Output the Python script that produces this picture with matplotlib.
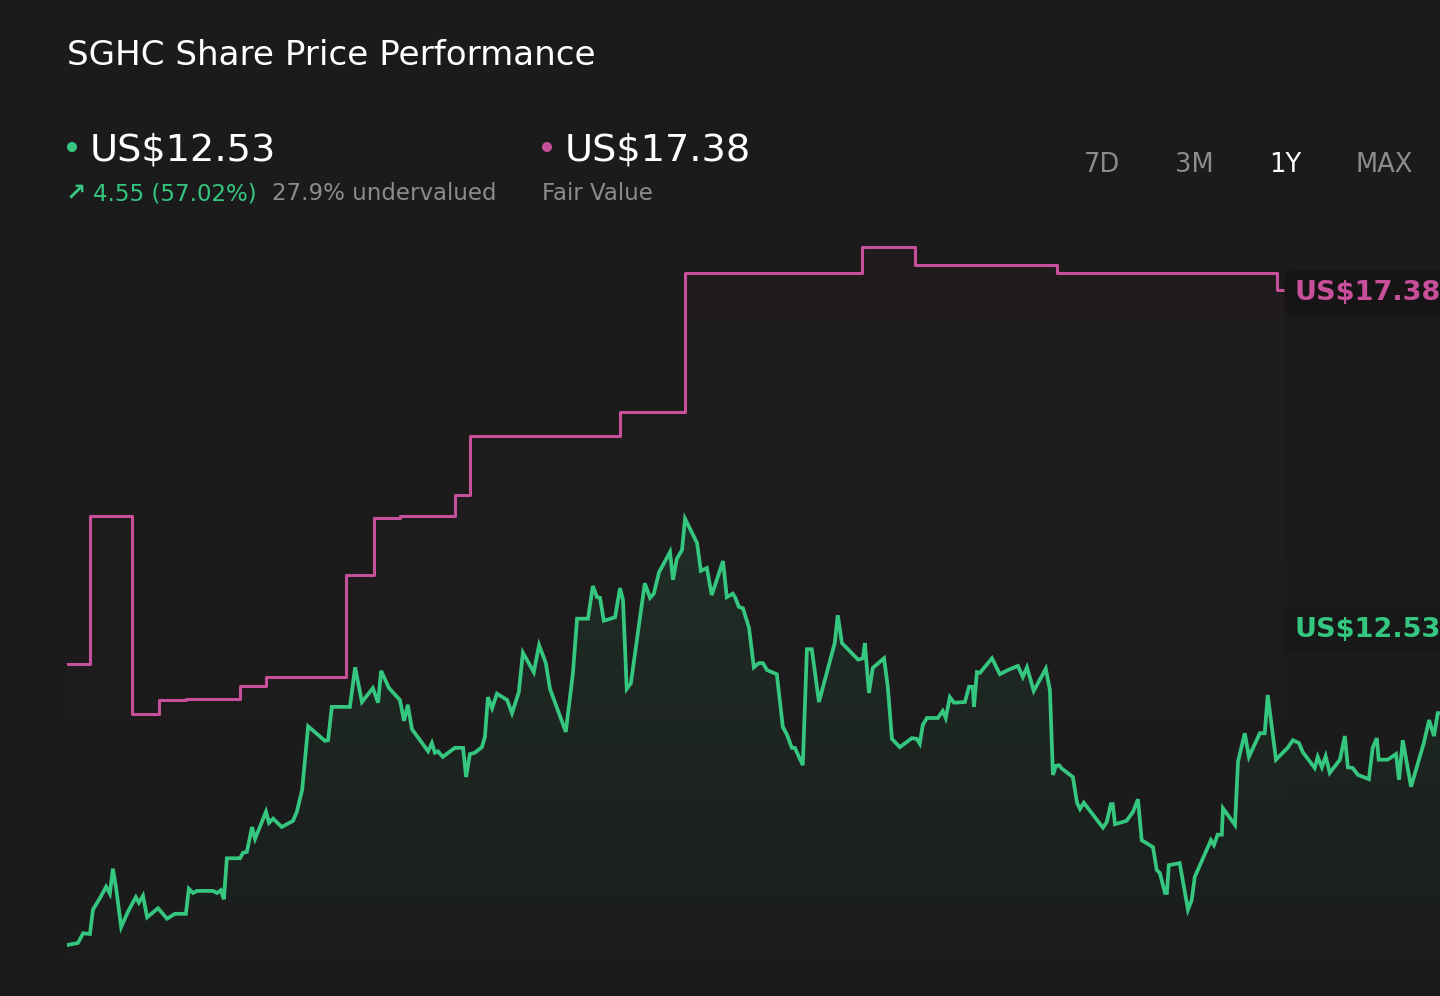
import numpy as np
import matplotlib
matplotlib.use("Agg")
import matplotlib.pyplot as plt
import matplotlib.colors as mcolors
from matplotlib.patches import Ellipse

BG = "#1b1b1b"
GREEN = "#35c77f"
PINK = "#c8509a"

# share price, days since start of the 1Y window
price_days = [0.0, 2.9, 4.3, 6.1, 6.9, 8.8, 10.4, 11.4, 12.2, 13.0, 14.4, 16.2, 18.3, 19.1, 20.2, 21.3,
              24.2, 26.6, 28.7, 31.6, 32.4, 33.5, 34.6, 38.8, 39.9, 40.9, 41.7, 42.5, 46.0, 46.8, 47.8,
              49.2, 50.0, 52.9, 53.7, 54.8, 57.1, 60.1, 61.1, 62.5, 64.1, 68.6, 69.4, 70.4, 75.2, 76.6,
              78.4, 81.3, 82.7, 83.5, 85.6, 88.5, 89.6, 90.6, 91.7, 96.0, 97.0, 97.8, 98.6, 99.9, 103.1,
              105.3, 106.1, 107.1, 108.4, 110.3, 111.1, 111.9, 113.0, 114.3, 117.0, 118.3, 120.1, 121.2,
              124.1, 125.5, 127.3, 128.4, 132.6, 134.5, 135.6, 138.5, 139.8, 140.9, 141.7, 142.7, 145.7,
              147.0, 147.8, 148.8, 149.9, 153.6, 155.0, 156.0, 157.4, 160.3, 161.1, 162.1, 163.5, 164.3,
              167.5, 168.5, 170.1, 171.4, 174.4, 175.4, 177.0, 177.6, 178.6, 179.7, 181.3, 182.6, 183.9,
              185.0, 186.1, 188.7, 190.3, 191.4, 192.7, 193.5, 195.6, 196.7, 198.0, 199.9, 204.1, 204.9,
              206.0, 210.3, 211.6, 212.1, 213.2, 214.2, 217.2, 218.2, 219.3, 221.4, 224.6, 225.9, 226.7,
              227.5, 228.6, 231.5, 232.8, 233.6, 234.7, 235.8, 238.7, 239.8, 240.8, 241.1, 241.9, 242.7,
              245.9, 248.0, 250.1, 252.8, 254.1, 255.2, 257.0, 260.2, 261.3, 262.1, 262.9, 263.7, 264.5,
              267.4, 268.5, 269.3, 270.3, 275.4, 276.4, 277.5, 278.0, 278.6, 281.7, 283.4, 284.7, 285.7,
              288.7, 289.7, 290.5, 291.9, 292.4, 292.9, 295.8, 298.0, 299.0, 299.8, 304.1, 304.9, 305.9,
              307.0, 307.3, 310.5, 311.3, 313.1, 314.2, 317.1, 318.4, 319.2, 321.4, 324.5, 325.9, 327.5,
              328.5, 331.7, 332.5, 333.6, 334.6, 335.7, 338.4, 339.7, 340.5, 341.8, 343.2, 346.1, 347.1,
              348.2, 348.7, 351.1, 353.3, 354.1, 355.1, 357.3, 360.7, 362.1, 363.4, 364.4, 365.0]
price = [7.95, 7.98, 8.12, 8.11, 8.46, 8.63, 8.79, 8.69, 9.05, 8.79, 8.21, 8.43, 8.64, 8.56, 8.66, 8.35,
         8.48, 8.33, 8.40, 8.40, 8.76, 8.70, 8.73, 8.73, 8.70, 8.74, 8.61, 9.20, 9.20, 9.28, 9.29,
         9.65, 9.48, 9.87, 9.71, 9.77, 9.65, 9.74, 9.87, 10.18, 11.10, 10.89, 10.90, 11.38, 11.38, 11.95,
         11.45, 11.65, 11.44, 11.90, 11.65, 11.48, 11.18, 11.41, 11.06, 10.74, 10.86, 10.72, 10.74, 10.66, 10.79,
         10.79, 10.37, 10.70, 10.72, 10.80, 10.95, 11.52, 11.36, 11.57, 11.48, 11.29, 11.59, 12.16,
         11.88, 12.27, 12.01, 11.64, 11.02, 11.87, 12.65, 12.65, 13.12, 12.96, 12.95, 12.62, 12.67,
         13.09, 12.92, 11.64, 11.72, 13.16, 12.95, 13.01, 13.32, 13.61, 13.21, 13.51, 13.64, 14.09,
         13.74, 13.34, 13.38, 12.99, 13.48, 12.96, 13.01, 12.96, 12.82, 12.80, 12.52, 11.95, 12.01,
         12.01, 11.91, 11.85, 11.09, 10.98, 10.79, 10.79, 10.54, 12.21, 12.21, 11.45, 12.30, 12.70,
         12.30, 12.06, 12.08, 12.30, 11.58, 11.94, 12.08, 11.67, 10.92, 10.80, 10.93, 10.92, 10.85,
         11.12, 11.22, 11.22, 11.32, 11.22, 11.52, 11.44, 11.45, 11.67, 11.67, 11.38, 11.88, 11.87,
         12.08, 11.85, 11.91, 11.97, 11.81, 11.95, 11.61, 11.93, 11.62, 10.40, 10.53, 10.54, 10.49,
         10.37, 10.00, 9.91, 10.00, 9.64, 9.72, 9.98, 9.98, 9.69, 9.74, 9.87, 10.05, 9.46,
         9.36, 9.03, 8.99, 8.70, 8.70, 9.10, 9.13, 8.46, 8.60, 8.93, 9.46, 9.39, 9.54,
         9.54, 9.92, 9.68, 10.59, 11.00, 10.66, 11.00, 11.00, 11.55, 10.62, 10.79, 10.90, 10.86,
         10.73, 10.50, 10.66, 10.51, 10.67, 10.43, 10.62, 10.96, 10.51, 10.50, 10.40, 10.34, 10.79,
         10.93, 10.62, 10.62, 10.70, 10.33, 10.90, 10.23, 10.86, 11.19, 10.96, 11.29, 11.29]

# fair value estimate, step changes
fv_days = [0.0, 6.1, 17.3, 24.5, 31.6, 46.0, 52.9, 74.2, 81.6, 88.5, 103.1, 107.1, 147.0, 164.3,
           211.3, 225.4, 263.1, 321.6, 323.6]
fair_value = [12.00, 14.13, 11.28, 11.48, 11.49, 11.68, 11.81, 13.28, 14.10, 14.13, 14.43, 15.28, 15.63,
              17.63, 18.00, 17.74, 17.63, 17.38, 17.38]

last_price = 12.53
last_fv = 17.38
change = 4.55
change_pct = 57.02
undervalued = 27.9
periods = ["7D", "3M", "1Y", "MAX"]
period_x = [1102, 1194, 1285, 1384]

W, H = 1440, 996


def fx(px):
    return px / W


def fy(py):
    return 1 - py / H


def gradient_under(ax, x, y, color, a_top, a_bot, step=None):
    x = np.asarray(x)
    y = np.asarray(y)
    y0 = ax.get_ylim()[0]
    z = np.zeros((200, 1, 4))
    z[:, :, :3] = mcolors.to_rgb(color)
    z[:, :, 3] = np.linspace(a_bot, a_top, 200)[:, None]
    im = ax.imshow(z, aspect="auto", origin="lower",
                   extent=[x.min(), x.max(), y0, y.max()], zorder=1, interpolation="bilinear")
    poly = ax.fill_between(x, y, y0, step=step, facecolor="none", edgecolor="none")
    im.set_clip_path(poly.get_paths()[0], transform=ax.transData)


fig = plt.figure(figsize=(14.4, 9.96), dpi=100, facecolor=BG)
ax = fig.add_axes([fx(67), fy(960), 1 - fx(67), (960 - 225) / H])
ax.set_facecolor(BG)
ax.set_xlim(0, 365)
ax.set_ylim(7.735, 18.319)

gradient_under(ax, fv_days, fair_value, PINK, 0.035, 0.0, step="post")
gradient_under(ax, price_days, price, GREEN, 0.11, 0.01)
ax.set_xlim(0, 365)
ax.set_ylim(7.735, 18.319)

ax.step(fv_days, fair_value, where="post", color=PINK, lw=2.2, zorder=3)
ax.plot(price_days, price, color=GREEN, lw=2.7, zorder=4, solid_joinstyle="miter")
ax.axis("off")

# end labels
label_x = 365 * (1294 - 67) / (1440 - 67)
for val, col, box in [(last_fv, PINK, "#171415"), (last_price, GREEN, "#171918")]:
    ax.text(label_x, val, f"US${val:.2f}", color=col, fontsize=19.5,
            fontweight="bold", va="center_baseline", ha="left", zorder=6, clip_on=False,
            bbox=dict(boxstyle="round,pad=0.35,rounding_size=0.3", facecolor=box, edgecolor="none"))

# header
fig.text(fx(67), fy(65), "SGHC Share Price Performance", color="white", fontsize=24.6, va="baseline")
fig.text(fx(90), fy(161), f"US${last_price:.2f}", color="white", fontsize=27.5, va="baseline")
fig.text(fx(565), fy(161), f"US${last_fv:.2f}", color="white", fontsize=27.5, va="baseline")
for cx, col in [(72, GREEN), (547, PINK)]:
    fig.patches.append(Ellipse((fx(cx), fy(147)), 10 / W, 10 / H, transform=fig.transFigure,
                               facecolor=col, edgecolor="none"))
fig.text(fx(66), fy(200), "\u2197", color=GREEN, fontsize=17.5, va="baseline", fontweight="bold")
fig.text(fx(93), fy(200), f"{change:.2f} ({change_pct:.2f}%)", color=GREEN, fontsize=16.5, va="baseline")
fig.text(fx(272), fy(200), f"{undervalued}% undervalued", color="#8c8c8c", fontsize=16.5, va="baseline")
fig.text(fx(542), fy(200), "Fair Value", color="#8c8c8c", fontsize=16.5, va="baseline")

for lab, px in zip(periods, period_x):
    fig.text(fx(px), fy(172), lab, color="white" if lab == "1Y" else "#8c8c8c",
             fontsize=18.5, ha="center", va="baseline")

fig.savefig("out.png", dpi=100, facecolor=BG)
